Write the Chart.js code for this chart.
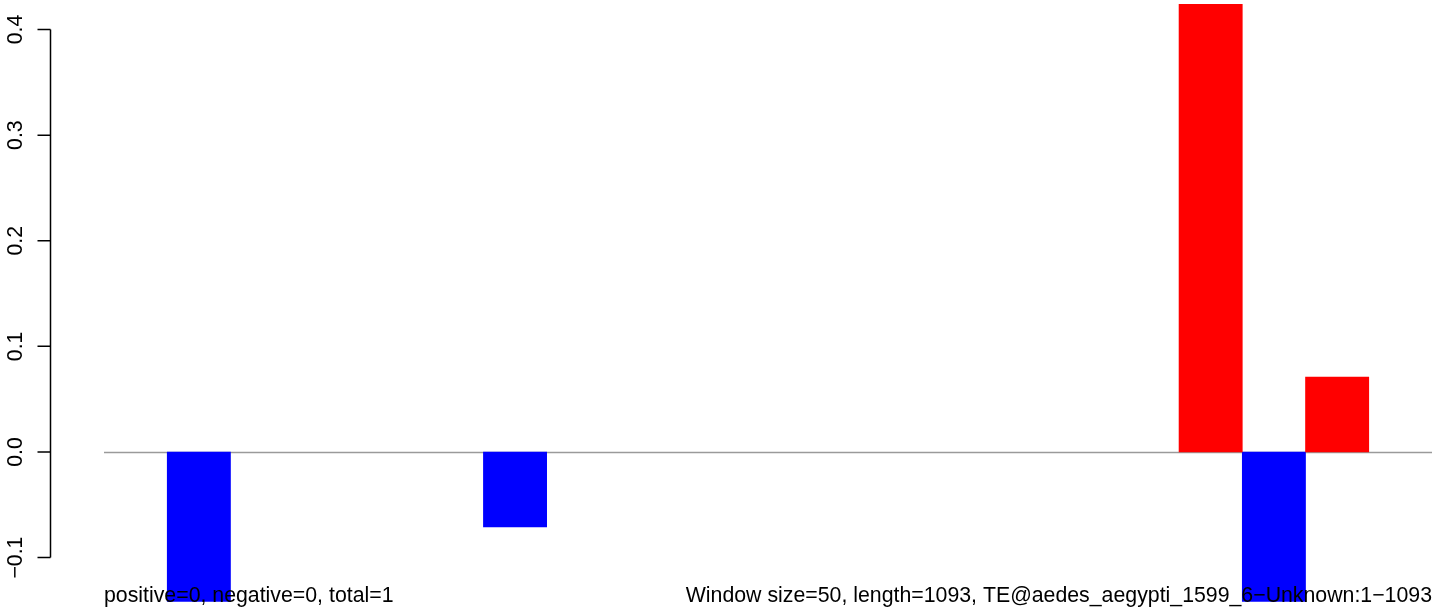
<!DOCTYPE html>
<html>
<head>
<meta charset="utf-8">
<script src="https://cdn.jsdelivr.net/npm/chart.js@4/dist/chart.umd.min.js"></script>
<style>
  html, body { margin: 0; padding: 0; background: #ffffff; }
  #wrap { width: 1444px; height: 613px; position: relative; }
</style>
</head>
<body>
<div id="wrap"><canvas id="c" width="1444" height="613"></canvas></div>
<script>
// ---- data ----
const windows = ["1","2","3","4","5","6","7","8","9","10","11","12","13","14","15","16","17","18","19","20","21"];
const senseValues     = [null,null,null,null,null,null,null,null,null,null,null,null,null,null,null,null,null,0.424,null,0.071,null];
const antisenseValues = [null,-0.142,null,null,null,null,-0.071,null,null,null,null,null,null,null,null,null,null,null,-0.142,null,null];
const yTickValues = [-0.1, 0.0, 0.1, 0.2, 0.3, 0.4];
const yTickLabels = ["\u22120.1", "0.0", "0.1", "0.2", "0.3", "0.4"];
const footLeft = "positive=0, negative=0, total=1";
const footRight = "Window size=50, length=1093, TE@aedes_aegypti_1599_6\u2212Unknown:1\u22121093";
const yMin = -0.1418, yMax = 0.4242;

const FONT = '21.3px "Liberation Sans", Arial, Helvetica, sans-serif';

const decor = {
  id: 'decor',
  beforeDatasetsDraw(chart) {
    const ctx = chart.ctx, y = chart.scales.y, a = chart.chartArea;
    const py = Math.round(y.getPixelForValue(0)) + 0.5;
    ctx.save();
    ctx.strokeStyle = '#9a9a9a';
    ctx.lineWidth = 1.4;
    ctx.beginPath();
    ctx.moveTo(a.left, py);
    ctx.lineTo(a.right, py);
    ctx.stroke();
    ctx.restore();
  },
  afterDraw(chart) {
    const ctx = chart.ctx, y = chart.scales.y, a = chart.chartArea;
    ctx.save();
    // y axis line and ticks
    ctx.strokeStyle = '#000';
    ctx.lineWidth = 1.5;
    const top = y.getPixelForValue(yTickValues[yTickValues.length - 1]);
    const bot = y.getPixelForValue(yTickValues[0]);
    const ax = 50.5;
    ctx.beginPath();
    ctx.moveTo(ax, top);
    ctx.lineTo(ax, bot);
    yTickValues.forEach(v => {
      const p = y.getPixelForValue(v);
      ctx.moveTo(ax, p);
      ctx.lineTo(37.5, p);
    });
    ctx.stroke();
    // y tick labels, rotated
    ctx.fillStyle = '#000';
    ctx.font = FONT;
    ctx.textAlign = 'center';
    ctx.textBaseline = 'alphabetic';
    yTickValues.forEach((v, i) => {
      const p = y.getPixelForValue(v);
      ctx.save();
      ctx.translate(22, p);
      ctx.rotate(-Math.PI / 2);
      ctx.fillText(yTickLabels[i], 0, 0);
      ctx.restore();
    });
    // footer texts
    ctx.textAlign = 'left';
    ctx.fillText(footLeft, a.left, 602);
    ctx.textAlign = 'right';
    ctx.fillText(footRight, a.right, 602);
    ctx.restore();
  }
};

new Chart(document.getElementById('c'), {
  type: 'bar',
  data: {
    labels: windows,
    datasets: [
      { label: 'sense', data: senseValues, backgroundColor: '#ff0000', borderWidth: 0 },
      { label: 'antisense', data: antisenseValues, backgroundColor: '#0000ff', borderWidth: 0 }
    ]
  },
  options: {
    responsive: false,
    animation: false,
    devicePixelRatio: 1,
    layout: { padding: { left: 104, right: 12, top: 4, bottom: 11.3 } },
    datasets: { bar: { categoryPercentage: 1.0, barPercentage: 1.0 } },
    plugins: { legend: { display: false }, tooltip: { enabled: false }, title: { display: false } },
    scales: {
      x: { display: false, stacked: true, offset: true, grid: { display: false } },
      y: { display: false, stacked: false, min: yMin, max: yMax, grid: { display: false } }
    }
  },
  plugins: [decor]
});
</script>
</body>
</html>
